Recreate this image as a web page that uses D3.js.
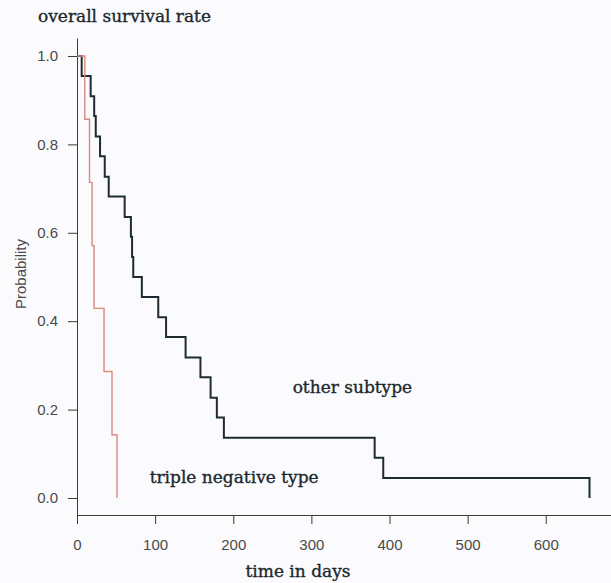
<!DOCTYPE html>
<html>
<head>
<meta charset="utf-8">
<script src="https://d3js.org/d3.v7.min.js"></script>
<style>
  body { margin: 0; background: #fbfbfd; }
  svg { display: block; }
  .axis path, .axis line { stroke: #3a3a3a; stroke-width: 1; }
  .axis text { font-family: "Liberation Sans", Arial, sans-serif; font-size: 15px; fill: #4a4a4a; }
  .serif { font-family: "DejaVu Serif", serif; font-size: 17px; fill: #1c282d; stroke: #1c282d; stroke-width: 0.35; }
</style>
</head>
<body>
<svg id="km" width="611" height="583"></svg>
<script>
// Kaplan-Meier steps
var otherDays = [0, 6, 17.5, 22, 24, 29.5, 35.5, 40.6, 61, 69, 70.5, 72, 83, 104, 114, 139, 158, 171, 179, 188, 381, 392, 656];
var otherProb = [1.000, 0.955, 0.909, 0.864, 0.818, 0.773, 0.727, 0.682, 0.636, 0.591, 0.545, 0.500, 0.455, 0.409, 0.364, 0.318, 0.273, 0.227, 0.182, 0.136, 0.091, 0.045, 0.000];

var tripleDays = [0, 10, 16, 19.3, 21.8, 34.6, 44.8, 51.2];
var tripleProb = [1.000, 0.857, 0.714, 0.571, 0.429, 0.286, 0.143, 0.000];

var xTicks = [0, 100, 200, 300, 400, 500, 600];
var yTicks = [0.0, 0.2, 0.4, 0.6, 0.8, 1.0];

var svg = d3.select("svg#km");

var x = d3.scaleLinear().domain([0, 683.5]).range([77, 611]);
var y = d3.scaleLinear().domain([-0.0385, 1.0407]).range([515, 38]);

// axes, crossing at the bottom left
svg.append("g").attr("class", "x axis")
  .attr("transform", "translate(0," + y.range()[0] + ")")
  .call(d3.axisBottom(x).tickValues(xTicks).tickSize(9).tickSizeOuter(0).tickPadding(15).tickFormat(d3.format("d")));

svg.append("g").attr("class", "y axis")
  .attr("transform", "translate(" + x.range()[0] + ",0)")
  .call(d3.axisLeft(y).tickValues(yTicks).tickSize(9).tickSizeOuter(0).tickPadding(10).tickFormat(d3.format(".1f")));

var line = d3.line()
  .x(function(d) { return x(d[0]); })
  .y(function(d) { return y(d[1]); })
  .curve(d3.curveStepAfter);

svg.append("path")
  .datum(d3.zip(otherDays, otherProb))
  .attr("d", line)
  .attr("fill", "none")
  .attr("stroke", "#1e2c32")
  .attr("stroke-width", 2);

svg.append("path")
  .datum(d3.zip(tripleDays, tripleProb))
  .attr("d", line)
  .attr("fill", "none")
  .attr("stroke", "#d8897d")
  .attr("stroke-width", 1.4);

// labels
svg.append("text").attr("class", "serif")
  .attr("x", 38).attr("y", 22)
  .text("overall survival rate");

svg.append("text").attr("class", "serif")
  .attr("x", x(276)).attr("y", y(0.238))
  .text("other subtype");

svg.append("text").attr("class", "serif")
  .attr("x", x(93)).attr("y", y(0.034))
  .text("triple negative type");

svg.append("text").attr("class", "serif")
  .attr("x", 298).attr("y", 577)
  .attr("text-anchor", "middle")
  .text("time in days");

svg.append("text")
  .attr("transform", "translate(26,274) rotate(-90)")
  .attr("text-anchor", "middle")
  .style("font-family", "'Liberation Sans', Arial, sans-serif")
  .style("font-size", "15px")
  .style("fill", "#4a4a4a")
  .text("Probability");
</script>
</body>
</html>
